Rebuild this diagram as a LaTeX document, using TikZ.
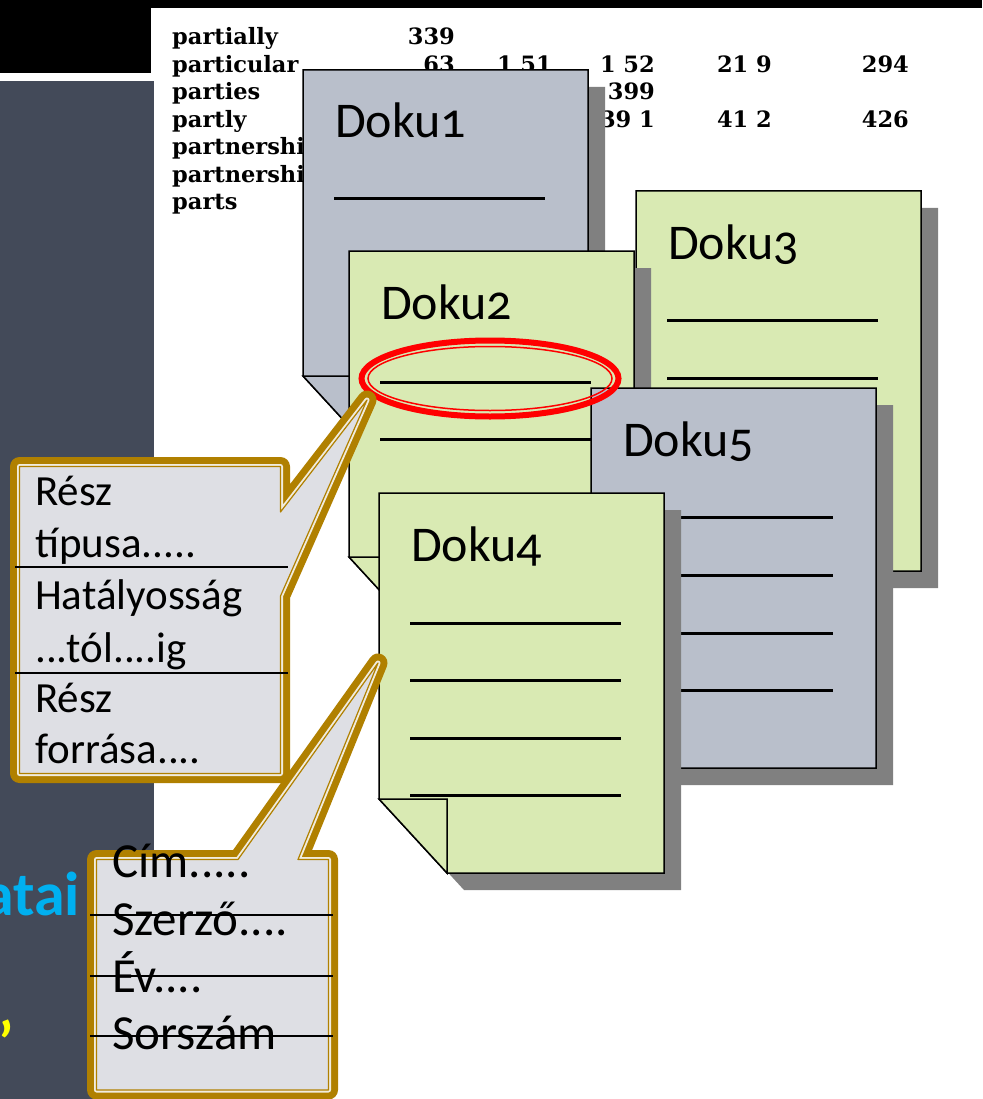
\documentclass[tikz,border=0pt]{standalone}
\usepackage{fontspec}
\setmainfont{Carlito}[Numbers=OldStyle]
\newfontfamily\scanfont{DejaVu Serif}

\definecolor{slate}{HTML}{434A59}
\definecolor{pageblue}{HTML}{B9BFCB}
\definecolor{pagegreen}{HTML}{D9EAB3}
\definecolor{pageshadow}{HTML}{808080}
\definecolor{calloutfill}{HTML}{DEDFE4}
\definecolor{gold}{HTML}{B08000}
\definecolor{goldlight}{HTML}{F1ECDD}
\definecolor{titleblue}{HTML}{00B0F0}
\definecolor{titleyellow}{HTML}{FFFF00}

\tikzset{
  pageedge/.style={draw=black, line width=1.5pt, line join=miter},
  docrule/.style={black, line width=3pt},
  doclabel/.style={anchor=base west, inner sep=0pt, font=\fontsize{50}{60}\selectfont},
  tableword/.style={anchor=base west, inner sep=0pt, font=\scanfont\bfseries\fontsize{22.5}{26}\selectfont},
  tablenum/.style={anchor=base east, inner sep=0pt, font=\scanfont\bfseries\fontsize{22.5}{26}\selectfont},
  notetextA/.style={anchor=base west, inner sep=0pt, font=\fontsize{43}{50}\selectfont},
  notetextB/.style={anchor=base west, inner sep=0pt, font=\fontsize{49}{56}\selectfont},
  noterule/.style={black, line width=1.1pt},
}

% one document page with its shadow, folded corner and ruled lines
% #1 node name, #2 left, #3 top, #4 fill colour, #5 label, #6 rule positions
\newcommand\docpage[6]{%
  \begin{scope}[shift={(#2,#3)}]
    \fill[pageshadow] (17,17) -- (302,17) -- (302,397) -- (85,397) -- (17,323) -- cycle;
    \filldraw[fill=#4, pageedge] (0,0) -- (285,0) -- (285,380) -- (68,380) -- (0,306) -- cycle;
    \filldraw[fill=#4, pageedge] (0,306) -- (68,306) -- (68,380) -- cycle;
    \foreach \ly in {#6} \draw[docrule] (31,\ly) -- (242,\ly);
    \node[doclabel] (#1) at (32,68) {#5};
  \end{scope}}

% speech bubble with a thick-thin golden border
\newcommand\calloutbox[1]{%
  \draw[gold, line width=19pt, line join=round] #1;
  \draw[goldlight, line width=5pt, line join=round] #1;
  \fill[calloutfill] #1;
  \draw[gold, line width=1.2pt, line join=round] #1;}

\begin{document}
\begin{tikzpicture}[x=1pt, y=-1pt]
\useasboundingbox (0,0) rectangle (982,1099);
\clip (0,0) rectangle (982,1099);

% backgrounds
\fill[white] (0,0) rectangle (982,1099);
\fill[black] (0,0) rectangle (982,8);
\fill[black] (0,0) rectangle (151,73);
\fill[slate] (0,81) rectangle (154,1099);

% scanned index table
\node[tableword] (w1) at (172,45) {partially};
\node[tableword] (w2) at (172,72.5) {particular};
\node[tableword] (w3) at (172,100) {parties};
\node[tableword] (w4) at (172,127.5) {partly};
\node[tableword] (w5) at (172,155) {partnership};
\node[tableword] (w6) at (172,182.5) {partnerships};
\node[tableword] (w7) at (172,210) {parts};
\node[tablenum] (n11) at (455,45) {339};
\node[tablenum] (n21) at (455,72.5) {63};
\node[tablenum] (n22) at (552,72.5) {1 51};
\node[tablenum] (n23) at (655,72.5) {1 52};
\node[tablenum] (n24) at (772,72.5) {21 9};
\node[tablenum] (n25) at (909,72.5) {294};
\node[tablenum] (n33) at (655,100) {399};
\node[tablenum] (n43) at (655,127.5) {39 1};
\node[tablenum] (n44) at (772,127.5) {41 2};
\node[tablenum] (n45) at (909,127.5) {426};

% document pages, back to front
\docpage{doku1}{303}{70}{pageblue}{Doku1}{129}
\docpage{doku3}{636}{191}{pagegreen}{Doku3}{129,187}
\docpage{doku2}{349}{251}{pagegreen}{Doku2}{131,188}
\docpage{doku5}{591}{388}{pageblue}{Doku5}{129,187,245,302}
\docpage{doku4}{379}{493}{pagegreen}{Doku4}{130,187,245,302}

% highlighted line on Doku2
\draw[red, line width=6pt] (490,378.5) ellipse [x radius=128.5pt, y radius=38pt];
\draw[red, line width=1.5pt] (490,378.5) ellipse [x radius=122pt, y radius=32pt];

% slide title fragments
\node[anchor=base east, inner sep=0pt, text=titleblue, font=\bfseries\fontsize{62}{70}\selectfont] (title) at (80,915) {atai};
\node[anchor=north east, inner sep=0pt, text=titleyellow, font=\bfseries\fontsize{60}{70}\selectfont] (quote) at (14,1020) {’};

% callout for the part attributes
\coordinate (tipA) at (367,400);
\calloutbox{(19.5,466.5) -- (280.5,466.5) -- (280.5,512) -- (tipA) -- (280.5,596) -- (280.5,773.5) -- (19.5,773.5) -- cycle}
\draw[noterule] (15,567) -- (288,567);
\draw[noterule] (15,673) -- (288,673);
\node[notetextA] (a1) at (35,505) {Rész};
\node[notetextA] (a2) at (35,557) {típusa.....};
\node[notetextA] (a3) at (35,609) {Hatályosság};
\node[notetextA] (a4) at (35,662) {...tól....ig};
\node[notetextA] (a5) at (35,712) {Rész};
\node[notetextA] (a6) at (35,763) {forrása....};

% callout for the document attributes
\coordinate (tipB) at (378,663);
\calloutbox{(96.5,859.5) -- (238,859.5) -- (tipB) -- (298,859.5) -- (328.5,859.5) -- (328.5,1090) -- (96.5,1090) -- cycle}
\node[notetextB] (b1) at (112,877) {Cím.....};
\node[notetextB] (b2) at (112,935) {Szerző....};
\node[notetextB] (b3) at (112,992) {Év....};
\node[notetextB] (b4) at (112,1049) {Sorszám};
\draw[noterule] (90,915) -- (333,915);
\draw[noterule] (90,976) -- (333,976);
\draw[noterule] (90,1036) -- (333,1036);
\end{tikzpicture}
\end{document}
